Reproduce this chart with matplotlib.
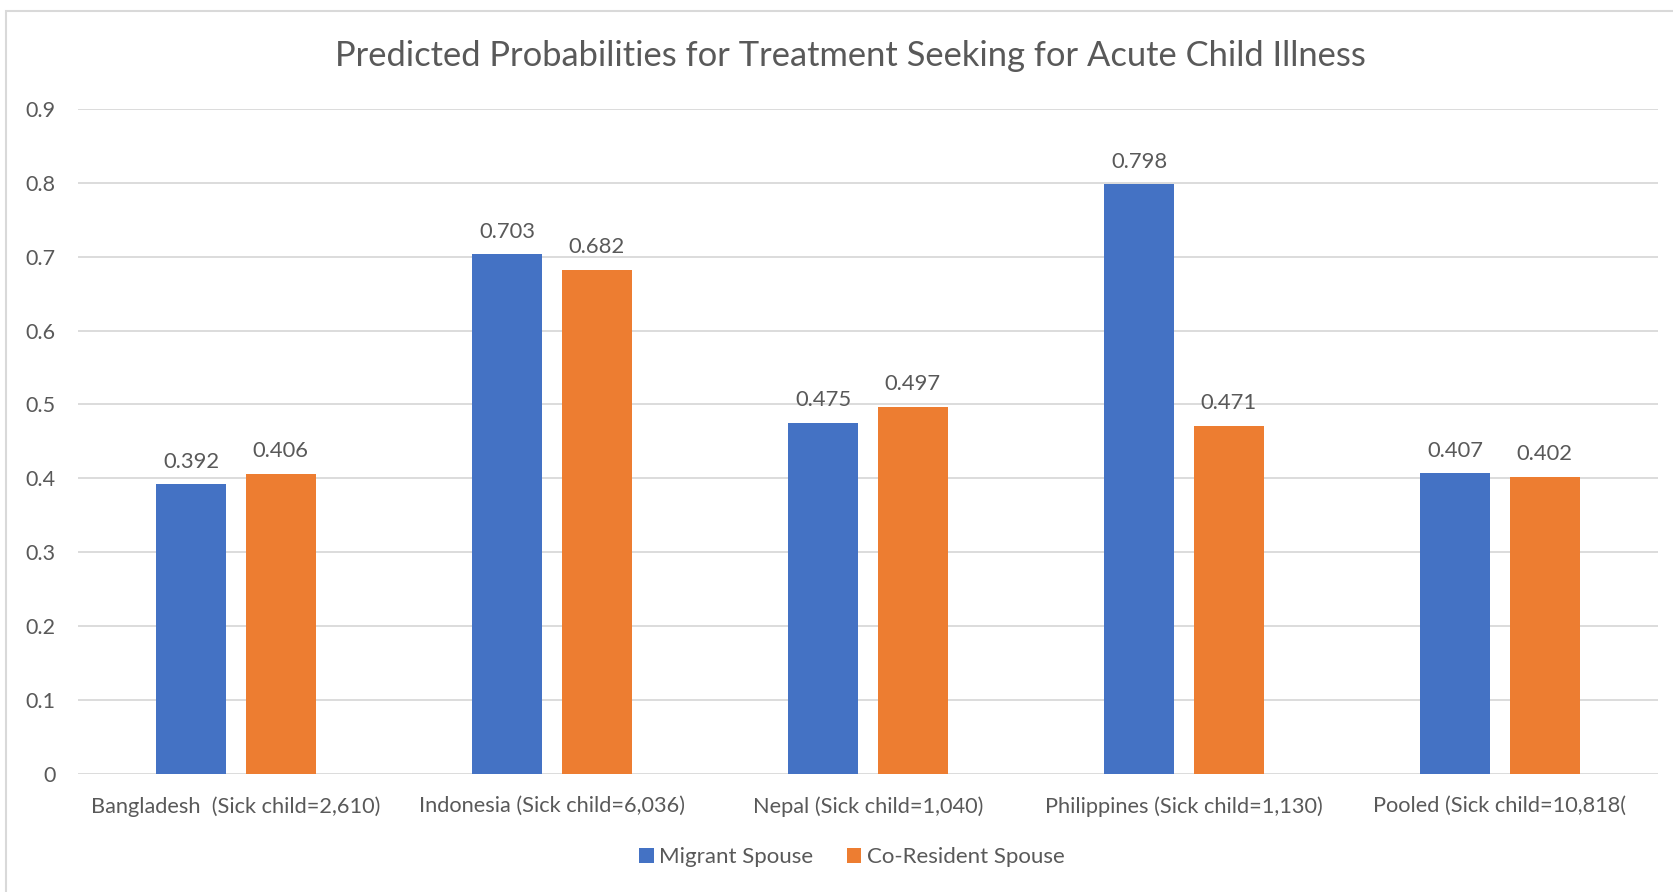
import numpy as np
import matplotlib.pyplot as plt
from matplotlib.patches import Rectangle

categories = ["Bangladesh  (Sick child=2,610)", "Indonesia (Sick child=6,036)",
              "Nepal (Sick child=1,040)", "Philippines (Sick child=1,130)",
              "Pooled (Sick child=10,818("]
migrant = [0.392, 0.703, 0.475, 0.798, 0.407]
coresident = [0.406, 0.682, 0.497, 0.471, 0.402]
series_names = ["Migrant Spouse", "Co-Resident Spouse"]
yticks = [0, 0.1, 0.2, 0.3, 0.4, 0.5, 0.6, 0.7, 0.8, 0.9]

TEXT = "#595959"
GRID = "#D9D9D9"
BLUE = "#4472C4"
ORANGE = "#ED7D31"

plt.rcParams["font.family"] = ["Lato", "DejaVu Sans"]

fig = plt.figure(figsize=(16.74, 8.92), dpi=100)
ax = fig.add_axes([0.0466, 0.1323, 0.9438, 0.7457])

x = np.arange(len(categories))
w = 0.223
off = 0.142
b1 = ax.bar(x - off, migrant, w, color=BLUE, label=series_names[0], zorder=3)
b2 = ax.bar(x + off, coresident, w, color=ORANGE, label=series_names[1], zorder=3)

for bars, vals in ((b1, migrant), (b2, coresident)):
    for rect, v in zip(bars, vals):
        ax.annotate(f"{v:.3f}", (rect.get_x() + rect.get_width() / 2, v),
                    xytext=(0, 9), textcoords="offset points",
                    ha="center", va="bottom", fontsize=15.8, color=TEXT)

ax.set_xlim(-0.5, len(categories) - 0.5)
ax.set_ylim(0, 0.9)
ax.set_yticks(yticks)
ax.set_yticklabels([f"{t:g}" for t in yticks])
ax.set_xticks(x)
ax.set_xticklabels(categories)
ax.tick_params(axis="both", length=0, labelsize=15.5, colors=TEXT)
ax.tick_params(axis="x", labelsize=15.7, pad=16)
ax.tick_params(axis="y", pad=16)
ax.grid(axis="y", color=GRID, linewidth=1.3, zorder=0)
for s in ax.spines.values():
    s.set_visible(False)

fig.suptitle("Predicted Probabilities for Treatment Seeking for Acute Child Illness",
             x=0.508, y=0.955, fontsize=24.8, color=TEXT)

fig.legend(handles=[b1, b2], loc="center", bbox_to_anchor=(0.509, 0.039), ncol=2,
           frameon=False, fontsize=16, labelcolor=TEXT, handlelength=0.65,
           handleheight=0.65, handletextpad=0.25, columnspacing=1.5)

# outer chart frame, clipped at the right and bottom edges
fig.patches.append(Rectangle((6.4 / 1674, -0.1), 1.2, 1.1 - 10.7 / 892,
                             transform=fig.transFigure, fill=False,
                             edgecolor=GRID, linewidth=1.5))

fig.savefig("out.png", dpi=100)
